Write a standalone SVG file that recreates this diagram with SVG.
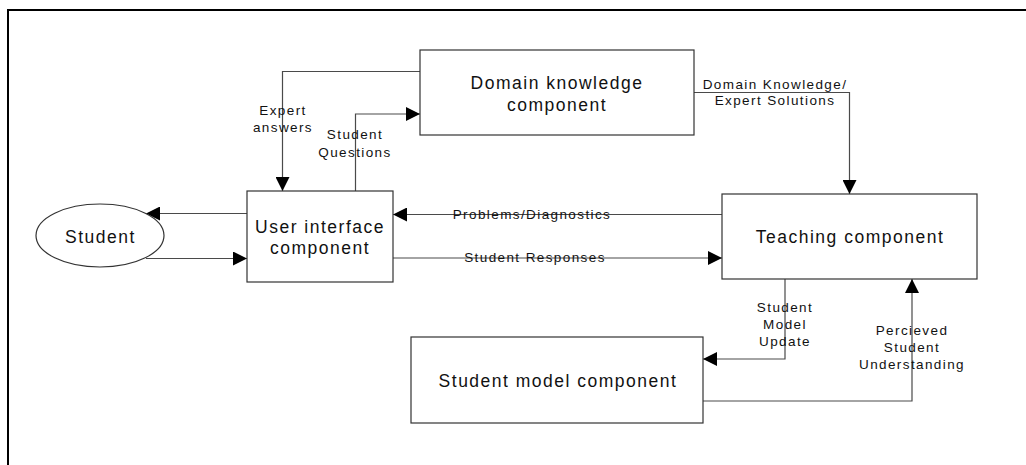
<svg xmlns="http://www.w3.org/2000/svg" width="1026" height="465" viewBox="0 0 1026 465">
  <style>
    .node { fill: #ffffff; stroke: #333333; stroke-width: 1.2; }
    .frame { fill: none; stroke: #000000; stroke-width: 2; }
    .conn { fill: none; stroke: #4a4a4a; stroke-width: 1.2; marker-end: url(#arrow); }
    .ntext { font-family: "Liberation Sans", Arial, sans-serif; font-size: 17.5px; letter-spacing: 1.5px; fill: #111111; text-anchor: middle; }
    .ltext { font-family: "Liberation Sans", Arial, sans-serif; font-size: 13.5px; letter-spacing: 1.4px; fill: #111111; text-anchor: middle; }
  </style>
  <defs>
    <marker id="arrow" markerUnits="userSpaceOnUse" markerWidth="14" markerHeight="14" refX="14" refY="7" orient="auto">
      <path d="M0,0 L14,7 L0,14 z" fill="#000000"/>
    </marker>
  </defs>

  <rect width="1026" height="465" fill="#ffffff"/>
  <!-- outer frame, running off the right and bottom edges -->
  <rect class="frame" x="8" y="10" width="1030" height="470"/>

  <g id="connectors">
    <path class="conn" d="M420,71.5 H282.5 V191"/>
    <path class="conn" d="M355.5,191 V114 H420"/>
    <path class="conn" d="M694,92.5 H849.5 V194"/>
    <path class="conn" d="M722,214.5 H393"/>
    <path class="conn" d="M393,258 H722"/>
    <path class="conn" d="M247,213.5 H146"/>
    <path class="conn" d="M146,258.5 H247"/>
    <path class="conn" d="M785,279 V359 H703"/>
    <path class="conn" d="M703,401 H912 V279"/>
  </g>

  <g id="connector-labels">
    <text class="ltext" x="283" y="115">Expert</text>
    <text class="ltext" x="283" y="132">answers</text>
    <text class="ltext" x="355" y="139">Student</text>
    <text class="ltext" x="355" y="156.5">Questions</text>
    <text class="ltext" x="775" y="89">Domain Knowledge/</text>
    <text class="ltext" x="775" y="105">Expert Solutions</text>
    <text class="ltext" x="532" y="218.5">Problems/Diagnostics</text>
    <text class="ltext" x="535" y="262">Student Responses</text>
    <text class="ltext" x="785" y="312">Student</text>
    <text class="ltext" x="785" y="329">Model</text>
    <text class="ltext" x="785" y="346">Update</text>
    <text class="ltext" x="912" y="335">Percieved</text>
    <text class="ltext" x="912" y="352">Student</text>
    <text class="ltext" x="912" y="369">Understanding</text>
  </g>

  <g id="domain-knowledge">
    <rect class="node" x="420" y="50" width="274" height="85"/>
    <text class="ntext" x="557" y="89">Domain knowledge</text>
    <text class="ntext" x="557" y="111">component</text>
  </g>

  <g id="user-interface">
    <rect class="node" x="247" y="191" width="146" height="91"/>
    <text class="ntext" x="320" y="233">User interface</text>
    <text class="ntext" x="320" y="254">component</text>
  </g>

  <g id="student">
    <ellipse class="node" cx="100" cy="235.5" rx="64" ry="31.5"/>
    <text class="ntext" x="100.5" y="243">Student</text>
  </g>

  <g id="teaching">
    <rect class="node" x="722" y="194" width="255" height="85"/>
    <text class="ntext" x="850" y="243">Teaching component</text>
  </g>

  <g id="student-model">
    <rect class="node" x="411" y="337" width="292" height="86"/>
    <text class="ntext" x="558" y="387">Student model component</text>
  </g>
</svg>
